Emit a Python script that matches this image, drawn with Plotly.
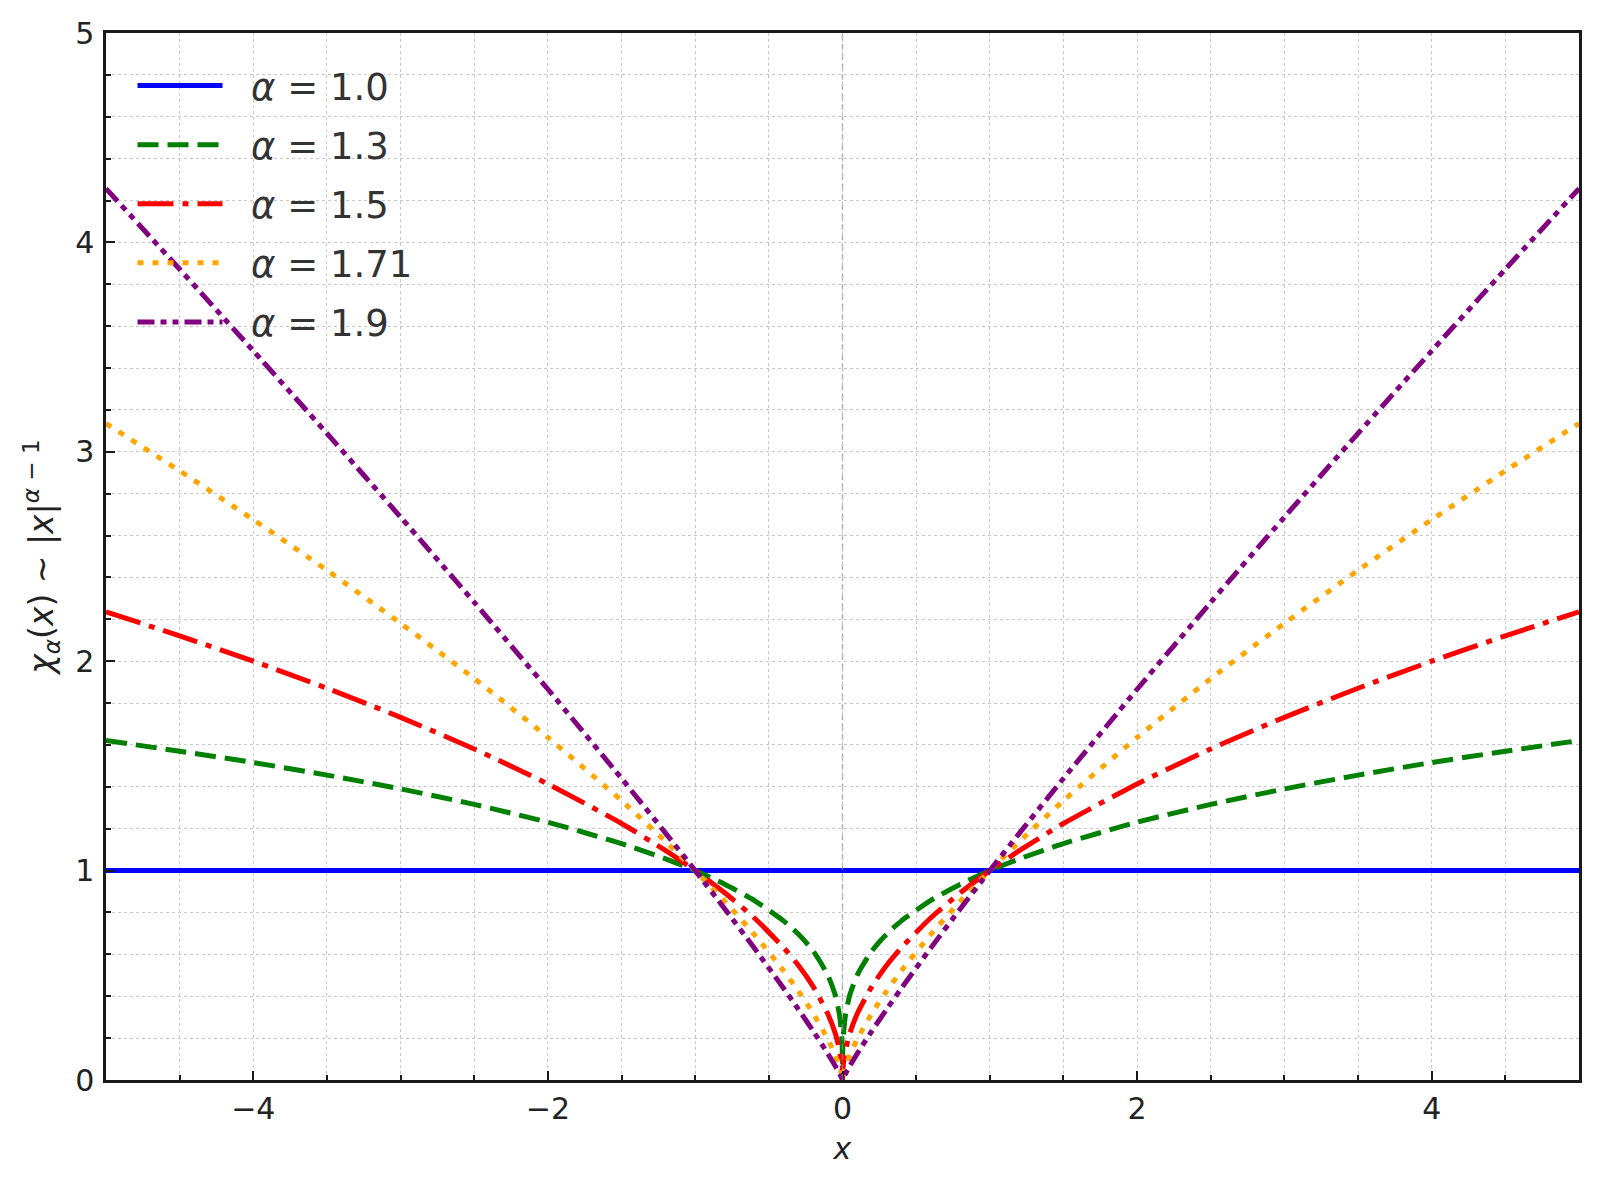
import plotly.graph_objects as go

# x samples and values (symmetric about x = 0)
x_pos = [0, 0.001, 0.005, 0.02, 0.05, 0.1, 0.2, 0.3, 0.4, 0.6, 0.8, 1.0,
         1.2, 1.5, 2.0, 2.5, 3.0, 3.5, 4.0, 4.5, 5.0]

chi_10 = [1.0] * 21
chi_13 = [0, 0.126, 0.204, 0.309, 0.407, 0.501, 0.617, 0.697, 0.760, 0.858, 0.935, 1.0,
          1.056, 1.129, 1.231, 1.316, 1.390, 1.456, 1.516, 1.570, 1.621]
chi_15 = [0, 0.032, 0.071, 0.141, 0.224, 0.316, 0.447, 0.548, 0.632, 0.775, 0.894, 1.0,
          1.095, 1.225, 1.414, 1.581, 1.732, 1.871, 2.0, 2.121, 2.236]
chi_171 = [0, 0.0074, 0.023, 0.062, 0.119, 0.195, 0.319, 0.425, 0.522, 0.696, 0.854, 1.0,
           1.138, 1.334, 1.636, 1.917, 2.181, 2.434, 2.676, 2.909, 3.135]
chi_19 = [0, 0.002, 0.0085, 0.0296, 0.0675, 0.126, 0.235, 0.338, 0.438, 0.631, 0.818, 1.0,
          1.178, 1.440, 1.866, 2.281, 2.688, 3.088, 3.482, 3.872, 4.257]

alpha_labels = ["1.0", "1.3", "1.5", "1.71", "1.9"]
series = [chi_10, chi_13, chi_15, chi_171, chi_19]
colors = ["#0000ff", "#008000", "#ff0000", "#ffa500", "#800080"]
dashes = ["solid", "21px,9px", "36px,9px,6px,9px", "6px,9px",
          "17px,6px,6px,6px,6px,6px"]

x_full = [-v for v in x_pos[::-1]] + x_pos[1:]

fig = go.Figure()

for label, ys, color, dash in zip(alpha_labels, series, colors, dashes):
    y_full = ys[::-1] + ys[1:]
    fig.add_trace(
        go.Scatter(
            x=x_full, y=y_full,
            mode="lines",
            line=dict(color=color, width=5, dash=dash, shape="spline", smoothing=0.6),
            name=f"&nbsp;&nbsp;<i>α</i> = {label}",
            legendgroup=label,
        )
    )

# zero reference line
fig.add_vline(x=0, line_dash="6px,4px", line_color="rgba(150,150,150,0.6)", line_width=1.5)

axis_common = dict(
    showline=True, mirror=True, linecolor="#1a1a1a", linewidth=2.5,
    ticks="inside", ticklen=9, tickwidth=2, tickcolor="#1a1a1a",
    showgrid=True, gridcolor="#c8c8c8", gridwidth=1, griddash="dot",
    zeroline=False, automargin=False,
    tickfont=dict(family="DejaVu Sans", size=30, color="#222222"),
)

fig.update_xaxes(
    range=[-5, 5], dtick=2, tick0=0, ticklabelstandoff=0,
    minor=dict(dtick=0.5, ticks="inside", ticklen=5, tickwidth=1.5, tickcolor="#1a1a1a",
               showgrid=True, gridcolor="#c8c8c8", gridwidth=1, griddash="dot"),
    title=dict(text="<i>x</i>", font=dict(family="DejaVu Sans", size=30, color="#222222"),
               standoff=14),
    **axis_common,
)
fig.update_yaxes(
    range=[0, 5], dtick=1, tick0=0, ticklabelstandoff=3,
    minor=dict(dtick=0.2, ticks="inside", ticklen=5, tickwidth=1.5, tickcolor="#1a1a1a",
               showgrid=True, gridcolor="#c8c8c8", gridwidth=1, griddash="dot"),
    title=dict(text="<i>χ<sub>α</sub></i>(<i>x</i>) ∼ |<i>x</i>|<sup><i>α</i> − 1</sup>",
               font=dict(family="DejaVu Sans", size=33, color="#222222"), standoff=12),
    **axis_common,
)

# the page body adds an 8 px offset, so the figure is 8 px smaller each way
fig.update_layout(
    width=1592, height=1180,
    margin=dict(l=98, r=21, t=25, b=108),
    plot_bgcolor="white", paper_bgcolor="white",
    legend=dict(
        x=0.018, y=0.979, xanchor="left", yanchor="top",
        bgcolor="rgba(0,0,0,0)", borderwidth=0,
        font=dict(family="DejaVu Sans", size=37, color="#333333"),
        itemwidth=85, traceorder="grouped", tracegroupgap=8,
    ),
    showlegend=True,
)

fig.write_html("out.html")
